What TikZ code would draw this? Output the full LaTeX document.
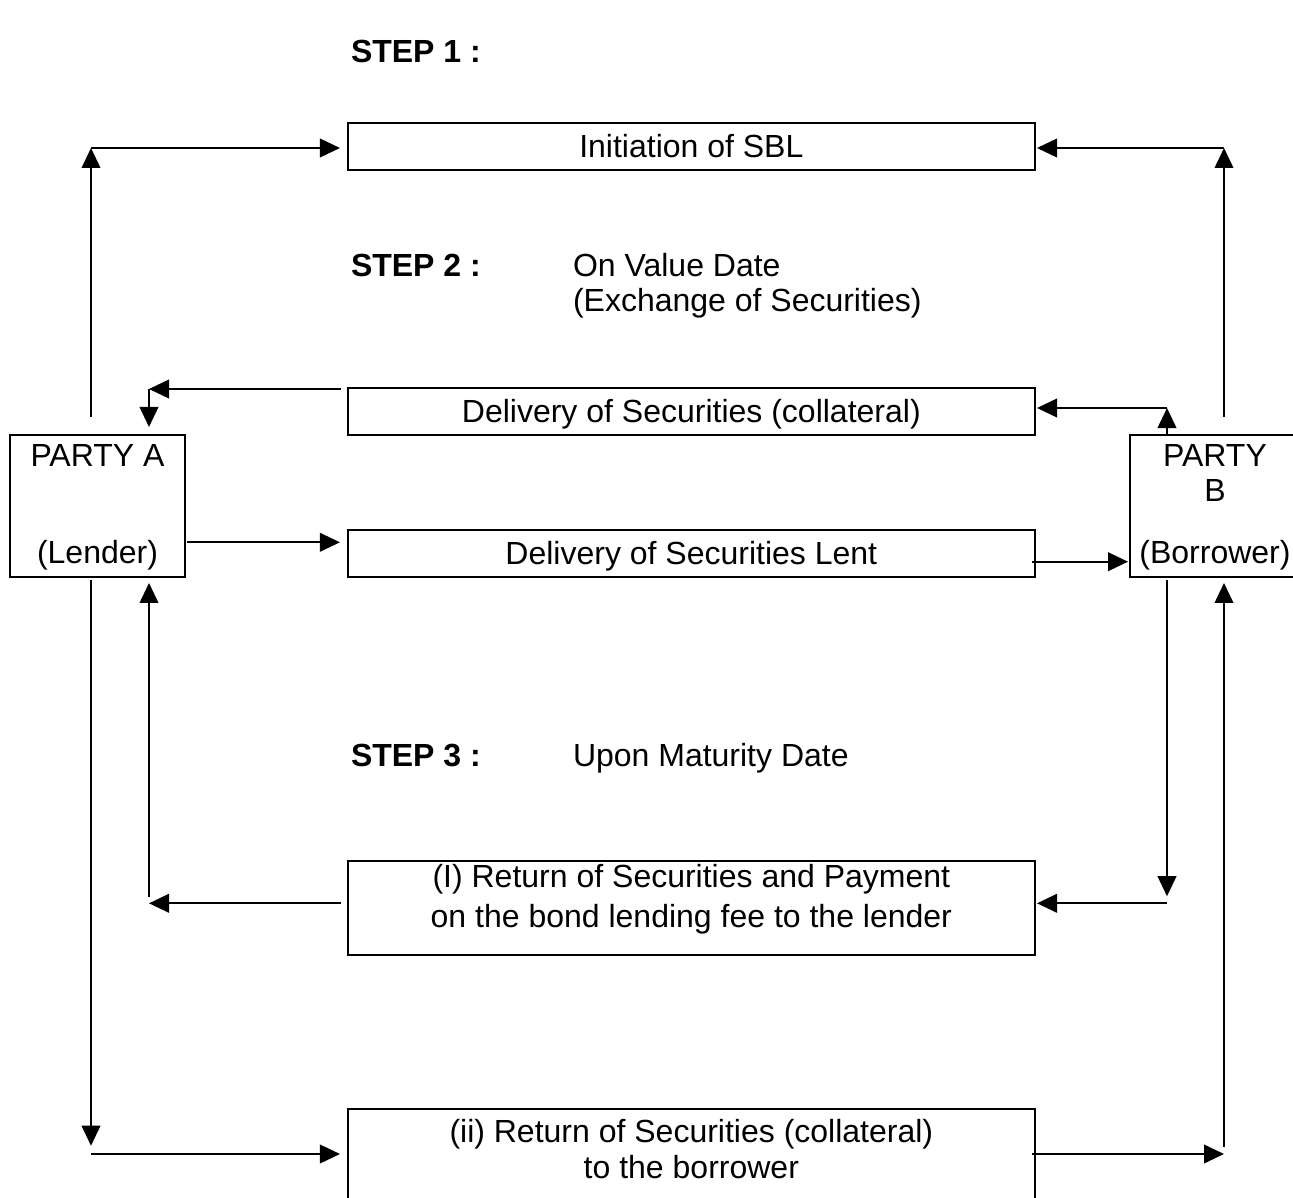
\documentclass[tikz,border=0pt]{standalone}
\usepackage{fontspec}
\setmainfont{Liberation Sans}
\usetikzlibrary{arrows.meta,calc}
\begin{document}
\begin{tikzpicture}[x=0.75pt,y=-0.75pt,
  box/.style={draw,line width=1.5pt,inner sep=0pt,outer sep=0pt,
    font=\fontsize{24pt}{27pt}\selectfont,text height=17.2pt,text depth=0pt},
  txt/.style={inner sep=0pt,outer sep=0pt,font=\fontsize{24pt}{27pt}\selectfont},
  arr/.style={line width=1.3pt,-{Triangle[length=15pt,width=14pt]}}]
\clip (0,0) rectangle (1293,1198);
\fill[white] (0,0) rectangle (1293,1198);
% boxes
\node[box,minimum width=515.5pt,minimum height=35.5pt] (init) at (691.35,146.35) {Initiation of SBL};
\node[box,minimum width=515.5pt,minimum height=35.5pt] (coll) at (691.35,411.35) {Delivery of Securities (collateral)};
\node[box,minimum width=515.5pt,minimum height=35pt] (lent) at (691.35,553.35) {Delivery of Securities Lent};
\node[box,minimum width=515.5pt,minimum height=70.5pt] (boxI) at (691.35,908) {};
\node[box,minimum width=515.5pt,minimum height=70.5pt] (boxII) at (691.35,1156) {};
\node[box,minimum width=131.25pt,minimum height=106.3pt] (A) at (97.5,505.85) {};
\node[box,minimum width=127.5pt,minimum height=106.3pt] (B) at (1215,505.85) {};
% texts
\node[txt,anchor=base west] (s1) at (351,63) {\bfseries STEP 1 :};
\node[txt,anchor=base west] (s2) at (351,277) {\bfseries STEP 2 :};
\node[txt,anchor=base west] (s2a) at (573,277) {On Value Date};
\node[txt,anchor=base west] (s2b) at (573,312) {(Exchange of Securities)};
\node[txt,anchor=base west] (s3) at (351,766) {\bfseries STEP 3 :};
\node[txt,anchor=base west] (s3a) at (573,766) {Upon Maturity Date};
\node[txt,anchor=base] (tA1) at (97.5,466) {PARTY A};
\node[txt,anchor=base] (tA2) at (97.5,563) {(Lender)};
\node[txt,anchor=base] (tB1) at (1215,466) {PARTY};
\node[txt,anchor=base] (tB2) at (1215,501) {B};
\node[txt,anchor=base] (tB3) at (1215,563) {(Borrower)};
\node[txt,align=center] (tI) at (691.35,899) {(I) Return of Securities and Payment\\[3pt]on the bond lending fee to the lender};
\node[txt,align=center] (tII) at (691.35,1149) {(ii) Return of Securities (collateral)\\to the borrower};
% coordinates
\coordinate (cTL) at (91,148);
\coordinate (cTR) at (1224,148);
\coordinate (cCL) at (149,389);
\coordinate (cCR) at (1167,408);
\coordinate (dA) at (186.7,542.3);
\coordinate (dB) at (1031.7,561.7);
\coordinate (cEL) at (149,903.3);
\coordinate (cER) at (1167,903.3);
\coordinate (cFL) at (91,1154);
\coordinate (cFR) at (1224,1154);
% step 1
\draw[arr,shorten <=13.5pt] (A.north -| cTL) -- (cTL);
\draw[arr,shorten >=5.8pt] (cTL) -- (init.west |- cTL);
\draw[arr,shorten <=13.5pt] (B.north -| cTR) -- (cTR);
\draw[arr,shorten >=1.5pt] (cTR) -- (init.east |- cTR);
% step 2
\draw[arr,shorten <=5pt] (coll.west |- cCL) -- (cCL);
\draw[arr,shorten >=6pt] (cCL) -- (A.north -| cCL);
\draw[arr] (B.north -| cCR) -- (cCR);
\draw[arr,shorten >=1.5pt] (cCR) -- (coll.east |- cCR);
\draw[arr,shorten >=5.8pt] (dA) -- (lent.west |- dA);
\draw[arr,shorten >=1.5pt] (dB) -- (B.west |- dB);
% step 3 (I)
\draw[arr,shorten <=2.5pt,shorten >=5.3pt] (B.south -| cER) -- (cER);
\draw[arr,shorten >=1.5pt] (cER) -- (boxI.east |- cER);
\draw[arr,shorten <=5pt] (boxI.west |- cEL) -- (cEL);
\draw[arr,shorten <=4.7pt,shorten >=4.7pt] (cEL) -- (A.south -| cEL);
% step 3 (ii)
\draw[arr,shorten <=2.5pt,shorten >=6.2pt] (A.south -| cFL) -- (cFL);
\draw[arr,shorten >=5.8pt] (cFL) -- (boxII.west |- cFL);
\draw[arr,shorten <=-2.5pt] (boxII.east |- cFR) -- (cFR);
\draw[arr,shorten <=5.5pt,shorten >=4.7pt] (cFR) -- (B.south -| cFR);
\end{tikzpicture}
\end{document}
